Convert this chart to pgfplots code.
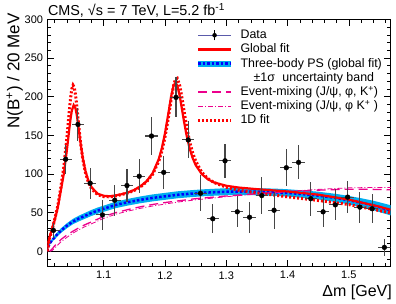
\documentclass[border=0pt]{standalone}
\usepackage{fontspec}
\setmainfont{Liberation Sans}
\usepackage{pgfplots}
\pgfplotsset{compat=1.18}
\definecolor{dataline}{RGB}{90,90,170}
\definecolor{errgray}{RGB}{70,70,70}
\begin{document}
\begin{tikzpicture}
\begin{axis}[
  scale only axis, width=343.2bp, height=247.4bp,
  xmin=1.008, xmax=1.568, ymin=-20, ymax=300,
  xtick={1.1,1.2,1.3,1.4,1.5}, xticklabels={1.1,1.2,1.3,1.4,1.5},
  minor xtick={1.02,1.04,1.06,1.08,1.12,1.14,1.16,1.18,1.22,1.24,1.26,1.28,1.32,1.34,1.36,1.38,1.42,1.44,1.46,1.48,1.52,1.54,1.56},
  ytick={0,50,100,150,200,250,300},
  minor ytick={-10,10,20,30,40,60,70,80,90,110,120,130,140,160,170,180,190,210,220,230,240,260,270,280,290},
  major tick length=7bp, minor tick length=3.5bp,
  tick style={black, line width=0.5bp},
  axis line style={black, line width=0.8bp},
  /pgf/number format/assume math mode=true,
  xticklabel style={font=\fontsize{11bp}{12bp}\selectfont, inner sep=0pt, yshift=-4.5bp},
  yticklabel style={font=\fontsize{11bp}{12bp}\selectfont, inner sep=0pt, xshift=-4bp},
  legend image code/.code={\draw[#1] (0bp,0bp) -- (33bp,0bp);},
  legend style={draw=none, fill=none, at={(rel axis cs:0.43,0.965)}, anchor=north west,
    inner sep=0pt, row sep=0pt, column sep=6bp,
    nodes={inner sep=0.5bp, text height=10bp, text depth=3.2bp, font=\fontsize{12.4bp}{15bp}\selectfont}},
  legend cell align=left,
]
% zero line
\addplot[black, line width=0.8bp, forget plot] coordinates {(1.008,0) (1.568,0)};
% uncertainty band
\addplot[fill=cyan, draw=none, forget plot] coordinates {
(1.008,0) (1.009,5.8) (1.012,11.5) (1.016,16.5) (1.02,20.5) (1.025,25.3) (1.03,29.5) (1.04,36.3) (1.05,42) (1.06,46.2) (1.07,49.8) (1.08,53.4) (1.09,56.5) (1.1,59) (1.12,64.2) (1.14,67.8) (1.16,70.9) (1.18,73.5) (1.2,75.5) (1.22,77.5) (1.24,78.8) (1.26,80) (1.28,80.8) (1.3,81.5) (1.32,81.8) (1.35,81.6) (1.38,81) (1.4,80.2) (1.43,78.4) (1.45,77) (1.48,74.1) (1.5,71.5) (1.52,68.6) (1.54,65.3) (1.55,63.3) (1.568,59.6)
(1.568,46.4) (1.55,50.7) (1.54,53.1) (1.52,57) (1.5,60.5) (1.48,63.5) (1.45,67) (1.43,68.6) (1.4,70.8) (1.38,71.6) (1.35,72.4) (1.32,72.6) (1.3,72.5) (1.28,71.8) (1.26,71) (1.24,69.8) (1.22,68.5) (1.2,66.5) (1.18,64.5) (1.16,62.1) (1.14,59.2) (1.12,55.8) (1.1,51) (1.09,48.5) (1.08,45.6) (1.07,42.2) (1.06,38.8) (1.05,35) (1.04,29.7) (1.03,23.5) (1.025,19.7) (1.02,15.5) (1.016,12.5) (1.012,8.5) (1.009,4.2) (1.008,0)
} -- cycle;
% three-body PS
\addplot[blue, line width=2.5bp, dash pattern=on 2.5bp off 2bp, forget plot] coordinates {
(1.008,0) (1.009,5) (1.012,10) (1.016,14.5) (1.02,18) (1.025,22.5) (1.03,26.5) (1.04,33) (1.05,38.5) (1.06,42.5) (1.07,46) (1.08,49.5) (1.09,52.5) (1.1,55) (1.12,60) (1.14,63.5) (1.16,66.5) (1.18,69) (1.2,71) (1.22,73) (1.24,74.3) (1.26,75.5) (1.28,76.3) (1.3,77) (1.32,77.2) (1.35,77) (1.38,76.3) (1.4,75.5) (1.43,73.5) (1.45,72) (1.48,68.8) (1.5,66) (1.52,62.8) (1.54,59.2) (1.55,57) (1.568,53)};
% event mixing dashed
\addplot[magenta, line width=1.3bp, dash pattern=on 9bp off 5bp, forget plot] coordinates {
(1.012,0) (1.016,3) (1.02,7) (1.025,11) (1.03,15) (1.04,21) (1.05,26) (1.06,30.5) (1.07,34.5) (1.08,38) (1.09,41.5) (1.1,45) (1.12,50) (1.14,54) (1.16,57.5) (1.18,60.5) (1.2,63) (1.22,65) (1.25,68) (1.3,71.5) (1.35,74.5) (1.4,77) (1.45,79) (1.5,80.3) (1.54,80) (1.568,79.5)};
% event mixing dash-dot
\addplot[magenta, line width=0.8bp, dash pattern=on 5bp off 2bp on 1bp off 2bp, forget plot] coordinates {
(1.012,0) (1.016,1) (1.02,4) (1.025,8) (1.03,12) (1.04,18) (1.05,23.5) (1.06,28) (1.07,32) (1.08,35.5) (1.09,39) (1.1,42.5) (1.12,48) (1.14,52) (1.16,55.5) (1.18,58.5) (1.2,61) (1.22,63.5) (1.25,66.5) (1.3,70.5) (1.35,74) (1.4,77.5) (1.45,80) (1.5,82) (1.54,82.5) (1.568,82.5)};
% 1D fit
\addplot[red, line width=3bp, dash pattern=on 2bp off 2bp, forget plot] coordinates {
(1.008,0) (1.012,17.5) (1.016,28.4) (1.02,41) (1.025,58.1) (1.03,82.4) (1.035,109.2) (1.04,147) (1.042,164.8) (1.044,182.4) (1.046,198.4) (1.048,209.8) (1.05,214.7) (1.052,211.9) (1.054,202.6) (1.056,188.7) (1.058,172.7) (1.06,156.9) (1.062,142.3) (1.064,129.8) (1.066,118.8) (1.07,102.6) (1.075,89.2) (1.08,80.9) (1.09,73.2) (1.1,70.7) (1.11,70.4) (1.12,71.6) (1.13,73.5) (1.14,75.6) (1.15,78.7) (1.16,83.2) (1.17,89.8) (1.18,99.7) (1.19,116.6) (1.195,129.7) (1.2,147.4) (1.205,170) (1.21,195.7) (1.214,213.9) (1.217,222.2) (1.22,223.7) (1.224,214.6) (1.228,197.1) (1.231,182.1) (1.235,162.8) (1.24,142.7) (1.245,127.7) (1.25,116.8) (1.26,102.2) (1.27,94) (1.28,88.9) (1.3,82.8) (1.32,79) (1.35,75.5) (1.4,70.4) (1.45,65.7) (1.5,60.4) (1.55,52.6) (1.568,49.6)};
% global fit
\addplot[red, line width=2.2bp, forget plot] coordinates {
(1.008,0) (1.009,9.6) (1.012,19.3) (1.016,29.5) (1.02,40) (1.025,56) (1.03,78) (1.035,100.5) (1.04,131) (1.042,144.7) (1.044,158.7) (1.046,171.5) (1.048,181.7) (1.051,189) (1.054,184.8) (1.056,176.7) (1.058,165.4) (1.06,153.6) (1.062,141.3) (1.064,130.6) (1.066,120.4) (1.07,104.6) (1.075,91.2) (1.08,83) (1.09,74.5) (1.1,71.7) (1.11,71.1) (1.12,72.3) (1.13,73.9) (1.14,76.1) (1.15,79.4) (1.16,84.1) (1.17,90.5) (1.18,101.1) (1.19,119.4) (1.195,133.6) (1.2,152.5) (1.205,175.7) (1.21,200.1) (1.214,214.2) (1.217,217.9) (1.22,214.6) (1.224,201.2) (1.228,182.5) (1.231,168.2) (1.235,150.9) (1.24,133.6) (1.245,120.9) (1.25,111.6) (1.26,99.8) (1.27,93.1) (1.28,89) (1.3,84.7) (1.32,82.4) (1.35,80.3) (1.4,77.3) (1.45,73.2) (1.5,66.8) (1.55,57.6) (1.568,53.6)};
% data
\addplot[only marks, mark=*, mark size=2.4bp, black, forget plot,
  error bars/.cd, x dir=both, x explicit, y dir=both, y explicit,
  error mark=none, error bar style={errgray, line width=1.1bp}]
  table[x=x, y=y, x error=ex, y error=ey] {
x ex y ey
1.018 0.01 27 10
1.038 0.01 119 19
1.058 0.01 164 21
1.078 0.01 88 20
1.098 0.01 47 19
1.118 0.01 66 20
1.138 0.01 85 21
1.158 0.01 97 22
1.178 0.01 149 25
1.198 0.01 102 21
1.218 0.01 199 26
1.238 0.01 144 24
1.258 0.01 75 23
1.278 0.01 42 19
1.298 0.01 117 22
1.318 0.01 51 20
1.338 0.01 44 20
1.358 0.01 72 24
1.378 0.01 53 24
1.398 0.01 108 24
1.418 0.01 115 22
1.438 0.01 68 22
1.458 0.01 51 20
1.478 0.01 60 20
1.498 0.01 70 21
1.518 0.01 57 20
1.538 0.01 55 19
1.558 0.01 5 11
};
% legend
\addlegendimage{legend image code/.code={
  \draw[dataline, line width=0.9bp] (0bp,0bp) -- (33bp,0bp);
  \draw[black, line width=0.9bp] (16.5bp,-5bp) -- (16.5bp,5bp);
  \fill[black] (16.5bp,0bp) circle (2bp);}}
\addlegendentry{Data}
\addlegendimage{red, line width=2.2bp}
\addlegendentry{Global fit}
\addlegendimage{legend image code/.code={
  \draw[cyan, line width=6bp] (0bp,0bp) -- (33bp,0bp);
  \draw[blue, line width=2.5bp, dash pattern=on 2.5bp off 2bp] (0bp,0bp) -- (33bp,0bp);}}
\addlegendentry{Three-body PS (global fit)}
\addlegendimage{empty legend}
\addlegendentry{\hspace*{13bp}±1σ\hspace{4bp} uncertainty band}
\addlegendimage{magenta, line width=1.3bp, dash pattern=on 9bp off 5bp}
\addlegendentry{Event-mixing (J/ψ, φ, K\textsuperscript{+})}
\addlegendimage{magenta, line width=0.8bp, dash pattern=on 5bp off 2bp on 1bp off 2bp}
\addlegendentry{Event-mixing (J/ψ, φ K\textsuperscript{+} )}
\addlegendimage{red, line width=3bp, dash pattern=on 2bp off 2bp}
\addlegendentry{1D fit}
\end{axis}
\node[anchor=base west, inner sep=0pt, font=\fontsize{14.4bp}{16bp}\selectfont]
  at ([shift={(0.5bp,3.3bp)}]current axis.north west) {CMS, √s = 7 TeV, L=5.2 fb\textsuperscript{-1}};
\node[anchor=base east, rotate=90, inner sep=0pt, font=\fontsize{17bp}{19bp}\selectfont]
  at ([shift={(-27.8bp,6.3bp)}]current axis.north west) {N(B\textsuperscript{+}) / 20 MeV};
\node[anchor=base east, inner sep=0pt, font=\fontsize{16bp}{18bp}\selectfont]
  at ([shift={(1.5bp,-29.3bp)}]current axis.south east) {Δm [GeV]};
\pgfresetboundingbox
\path[use as bounding box] ([shift={(-47.3bp,-36.3bp)}]current axis.south west) rectangle ([shift={(5.5bp,19.3bp)}]current axis.north east);
\end{tikzpicture}
\end{document}
